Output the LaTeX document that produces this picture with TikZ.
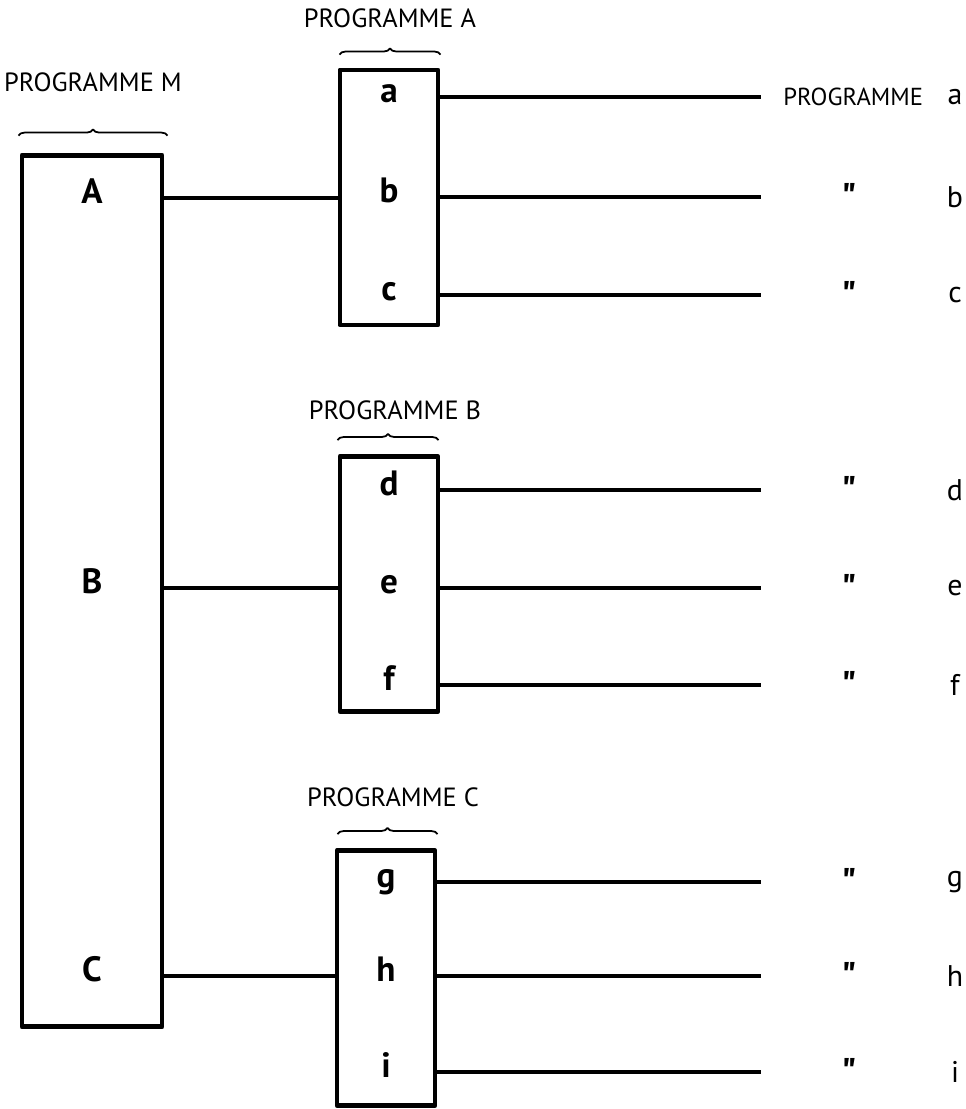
\documentclass[tikz,border=0pt]{standalone}
\usepackage{fontspec}
\setmainfont{PT Sans}
\usetikzlibrary{calc,positioning,decorations.pathreplacing}

\begin{document}
\begin{tikzpicture}[x=0.02cm, y=-0.02cm, line join=round]
    \tikzset{
        a/.style={line width=2.1pt},
        sq/.style={draw, rectangle, line width=2.8pt, minimum width=1.96cm, minimum height=5.1cm, inner sep=0pt},
        br/.style={decorate, decoration={brace, amplitude=3.5pt}, line width=1pt},
        lbl/.style={font=\fontsize{15}{17}\selectfont},
        ditto/.style={font=\fontsize{22}{24}\selectfont\bfseries},
        let/.style={font=\fontsize{20}{22}\selectfont\bfseries, text height=1.3ex, text depth=0pt, inner sep=0pt}
    }
    \useasboundingbox (0,0) rectangle (966,1109);

    % main programme
    \node [sq, minimum width=2.8cm, minimum height=17.44cm] (M) at (92,591) {};
        \node [let] (mA) at (92,198) {A};
        \node [let] (mB) at (92,588) {B};
        \node [let] (mC) at (92,976) {C};
        \draw [br] ($(M.north west)+(-1,-17)$) -- ($(M.north east)+(3,-17)$);
        \node [lbl] (tM) at (93,82) {PROGRAMME M};

    % sub programmes
    \node [sq] (PA) at (389,197.5) {};
        \node [let] (pa) at (389,97) {a};
        \node [let] (pb) at (389,197) {b};
        \node [let] (pc) at (389,295) {c};
        \draw [br] ($(PA.north west)+(2,-13)$) -- ($(PA.north east)+(0,-13)$);
        \node [lbl] (tA) at (390,18) {PROGRAMME A};

    \node [sq] (PB) at (389,584) {};
        \node [let] (pd) at (389,490) {d};
        \node [let] (pe) at (389,588) {e};
        \node [let] (pf) at (389,685) {f};
        \draw [br] ($(PB.north west)+(0,-14)$) -- ($(PB.north east)+(-2,-14)$);
        \node [lbl] (tB) at (395,410) {PROGRAMME B};

    \node [sq] (PC) at (386,978) {};
        \node [let] (pg) at (386,882) {g};
        \node [let] (ph) at (386,976) {h};
        \node [let] (pi) at (386,1072) {i};
        \draw [br] ($(PC.north west)+(3,-14)$) -- ($(PC.north east)+(0,-14)$);
        \node [lbl] (tC) at (393,797) {PROGRAMME C};

    % links from M
    \draw [a] (mA -| M.east) -- (mA -| PA.west);
    \draw [a] (mB -| M.east) -- (mB -| PB.west);
    \draw [a] (mC -| M.east) -- (mC -| PC.west);

    % outputs
    \coordinate (rend) at (761,0);
    \draw [a] (pa -| PA.east) -- (pa -| rend);
    \draw [a] (pb -| PA.east) -- (pb -| rend);
    \draw [a] (pc -| PA.east) -- (pc -| rend);
    \draw [a] (pd -| PB.east) -- (pd -| rend);
    \draw [a] (pe -| PB.east) -- (pe -| rend);
    \draw [a] (pf -| PB.east) -- (pf -| rend);
    \draw [a] (pg -| PC.east) -- (pg -| rend);
    \draw [a] (ph -| PC.east) -- (ph -| rend);
    \draw [a] (pi -| PC.east) -- (pi -| rend);

    \node [lbl, font=\fontsize{14}{16}\selectfont, anchor=west, inner sep=0pt] (qa) at (783,97) {PROGRAMME};
    \node [ditto] (qb) at (849,197) {\textquotedbl};
    \node [ditto] (qc) at (849,295) {\textquotedbl};
    \node [ditto] (qd) at (849,490) {\textquotedbl};
    \node [ditto] (qe) at (849,588) {\textquotedbl};
    \node [ditto] (qf) at (849,685) {\textquotedbl};
    \node [ditto] (qg) at (849,882) {\textquotedbl};
    \node [ditto] (qh) at (849,976) {\textquotedbl};
    \node [ditto] (qi) at (849,1072) {\textquotedbl};

    \tikzset{lbl/.append style={font=\fontsize{17}{19}\selectfont}}
    \node [lbl] (la) at (955,97) {a};
    \node [lbl] (lb) at (955,197) {b};
    \node [lbl] (lc) at (955,295) {c};
    \node [lbl] (ld) at (955,490) {d};
    \node [lbl] (le) at (955,588) {e};
    \node [lbl] (lf) at (955,685) {f};
    \node [lbl] (lg) at (955,882) {g};
    \node [lbl] (lh) at (955,976) {h};
    \node [lbl] (li) at (955,1072) {i};
\end{tikzpicture}
\end{document}
